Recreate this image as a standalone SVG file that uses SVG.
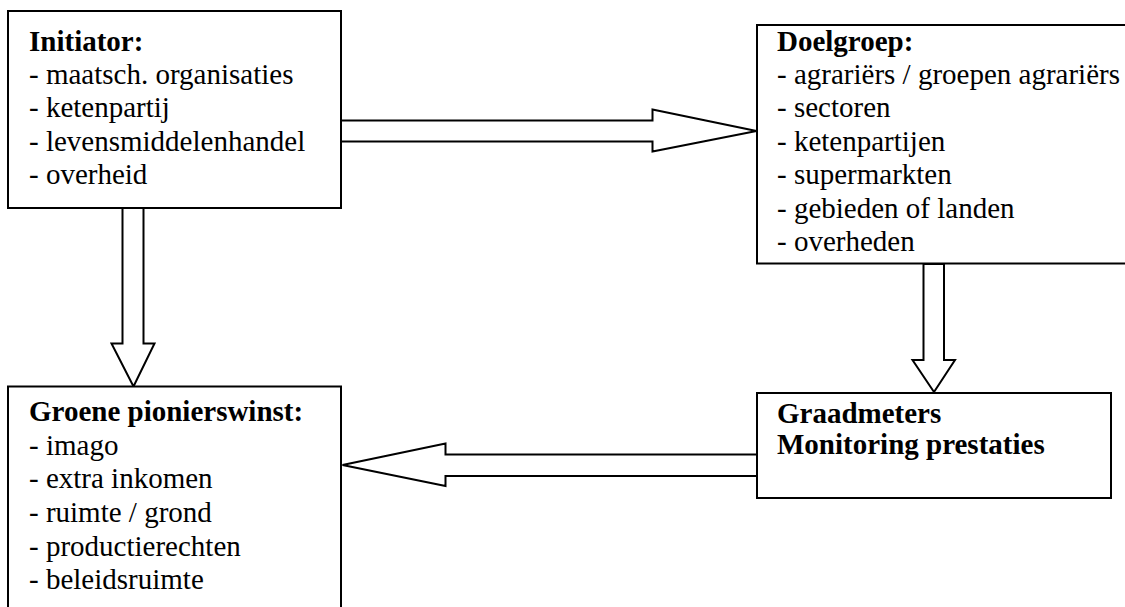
<svg xmlns="http://www.w3.org/2000/svg" width="1125" height="607" viewBox="0 0 1125 607">
<style>
.box{fill:#fff;stroke:#000;stroke-width:2}
.arr{fill:#fff;stroke:#000;stroke-width:2;stroke-linejoin:miter}
text{font-family:"Liberation Serif","Times New Roman",serif;font-size:29px;fill:#000}
.b{font-weight:bold}
</style>
<rect width="1125" height="607" fill="#fff"/>
<g id="connectors">
<path class="arr" d="M341,120.5 H652.5 V109.5 L756.5,131 L652.5,151.5 V141.5 H341 Z"/>
<path class="arr" d="M122.5,208 V343.5 H111.5 L133.5,386.5 L154.5,343.5 H143.5 V208 Z"/>
<path class="arr" d="M923.5,264 V360 H912.5 L934,392 L955,360 H944 V264 Z"/>
<path class="arr" d="M757,454.5 H445.5 V443.5 L342.5,465 L445.5,486 V476 H757 Z"/>
</g>
<g id="initiator">
<rect class="box" x="8" y="11" width="333" height="197"/>
<text x="29" y="51" class="b">Initiator:</text>
<text x="29" y="84">- maatsch. organisaties</text>
<text x="29" y="117">- ketenpartij</text>
<text x="29" y="151">- levensmiddelenhandel</text>
<text x="29" y="184">- overheid</text>
</g>
<g id="doelgroep">
<rect class="box" x="757" y="25" width="380" height="238.5"/>
<text x="777" y="51" class="b">Doelgroep:</text>
<text x="777" y="84">- agrariërs / groepen agrariërs</text>
<text x="777" y="117">- sectoren</text>
<text x="777" y="151">- ketenpartijen</text>
<text x="777" y="184">- supermarkten</text>
<text x="777" y="218">- gebieden of landen</text>
<text x="777" y="251">- overheden</text>
</g>
<g id="groene">
<rect class="box" x="8" y="386.5" width="333" height="240"/>
<text x="29" y="421" class="b">Groene pionierswinst:</text>
<text x="29" y="455">- imago</text>
<text x="29" y="488">- extra inkomen</text>
<text x="29" y="522">- ruimte / grond</text>
<text x="29" y="556">- productierechten</text>
<text x="29" y="589">- beleidsruimte</text>
</g>
<g id="graadmeters">
<rect class="box" x="757" y="393" width="354" height="105"/>
<text x="777" y="423" class="b">Graadmeters</text>
<text x="777" y="454" class="b">Monitoring prestaties</text>
</g>
</svg>
